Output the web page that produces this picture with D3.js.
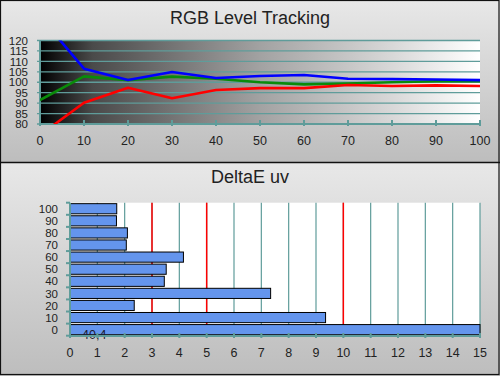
<!DOCTYPE html>
<html><head><meta charset="utf-8">
<script src="https://cdn.jsdelivr.net/npm/d3@7"></script>
<style>html,body{margin:0;padding:0;background:#fff}svg{display:block}</style>
</head><body>
<script>
const levels = [0,10,20,30,40,50,60,70,80,90,100];
const redVals   = [74.7,90.2,97.4,92.3,96.3,97.2,97.2,98.7,98.2,98.5,98.2];
const greenVals = [91.5,102.8,101.0,102.7,101.7,100.0,99.0,99.4,100.0,100.5,100.5];
const blueVals  = [131.5,106.5,101.1,104.9,102.0,103.0,103.5,101.7,101.5,101.3,101.0];
const yTicksTop = [80,85,90,95,100,105,110,115,120];
const xTicksTop = [0,10,20,30,40,50,60,70,80,90,100];
const deCats = ["100","90","80","70","60","50","40","30","20","10","0"];
const deVals = [1.71,1.70,2.10,2.06,4.15,3.52,3.45,7.34,2.35,9.35,40.4];
const xTicksBot = d3.range(0,16);
const refLines = [3,5,10];

const W=500,H=376;
const svg=d3.select("body").append("svg").attr("width",W).attr("height",H);
const defs=svg.append("defs");
const pg=defs.append("linearGradient").attr("id","panel").attr("x1",0).attr("y1",0).attr("x2",0).attr("y2",1);
pg.append("stop").attr("offset","0%").attr("stop-color","#e8e8e8");
pg.append("stop").attr("offset","100%").attr("stop-color","#bdbdbd");
const bg=defs.append("linearGradient").attr("id","plotbg").attr("x1",0).attr("y1",0).attr("x2",1).attr("y2",0);
[[0,"#000"],[0.12,"#4a4a4a"],[0.5,"#a2a2a2"],[0.8,"#d8d8d8"],[1,"#ffffff"]].forEach(s=>bg.append("stop").attr("offset",s[0]).attr("stop-color",s[1]));
defs.append("clipPath").attr("id","clipTop").append("rect").attr("x",40).attr("y",40.5).attr("width",440).attr("height",83.5);

svg.append("rect").attr("x",0).attr("y",0).attr("width",W).attr("height",162).attr("fill","url(#panel)");
svg.append("rect").attr("x",0).attr("y",163).attr("width",W).attr("height",213).attr("fill","url(#panel)");
svg.append("rect").attr("x",0.5).attr("y",0.5).attr("width",W-1.5).attr("height",H-2).attr("fill","none").attr("stroke","#111").attr("stroke-width",1.2);
svg.append("line").attr("x1",0).attr("x2",W).attr("y1",162.5).attr("y2",162.5).attr("stroke","#111").attr("stroke-width",1.5);

const teal="#5f9c9a";
const font="'Liberation Sans', Arial, sans-serif";

// ---------- Top chart ----------
const x=d3.scaleLinear().domain([0,100]).range([40,480]);
const y=d3.scaleLinear().domain([80,120]).range([124,40.5]);
svg.append("text").attr("x",250).attr("y",24).attr("text-anchor","middle").attr("font-family",font).attr("font-size",18).attr("fill","#222").text("RGB Level Tracking");
svg.append("rect").attr("x",x(0)).attr("y",y(120)).attr("width",x(100)-x(0)).attr("height",y(80)-y(120)).attr("fill","url(#plotbg)");
svg.append("g").selectAll("line").data(yTicksTop).join("line")
  .attr("x1",x(0)-3).attr("x2",x(100)).attr("y1",d=>y(d)).attr("y2",d=>y(d)).attr("stroke",teal).attr("stroke-width",1.3);
svg.append("line").attr("x1",x(0)).attr("x2",x(0)).attr("y1",y(120)).attr("y2",y(80)).attr("stroke",teal).attr("stroke-width",2);
svg.append("line").attr("x1",x(0)-1).attr("x2",x(100)+1).attr("y1",y(80)).attr("y2",y(80)).attr("stroke",teal).attr("stroke-width",2.2);
svg.append("g").selectAll("line").data(xTicksTop).join("line")
  .attr("x1",d=>x(d)).attr("x2",d=>x(d)).attr("y1",y(80)-4).attr("y2",y(80)+2).attr("stroke",teal).attr("stroke-width",2);
svg.append("g").selectAll("text").data(yTicksTop).join("text")
  .attr("x",28).attr("y",d=>y(d)+4.2).attr("text-anchor","end").attr("font-family",font).attr("font-size",11.5).attr("fill","#222").text(d=>d);
svg.append("g").selectAll("text").data(xTicksTop).join("text")
  .attr("x",d=>x(d)).attr("y",144.5).attr("text-anchor","middle").attr("font-family",font).attr("font-size",12.5).attr("fill","#222").text(d=>d);
const line=d3.line().x((d,i)=>x(levels[i])).y(d=>y(d));
const lg=svg.append("g").attr("clip-path","url(#clipTop)");
[[greenVals,"#0a8a0a"],[redVals,"#ff0000"],[blueVals,"#0000ff"]].forEach(([v,c])=>{
  lg.append("path").datum(v).attr("d",line).attr("fill","none").attr("stroke",c).attr("stroke-width",2.6).attr("stroke-linejoin","round");
});

// ---------- Bottom chart ----------
const x2=d3.scaleLinear().domain([0,15]).range([70,480]);
const y2=d3.scaleBand().domain(deCats).range([202.7,335.7]).paddingInner(0.16).paddingOuter(0.08);
svg.append("text").attr("x",250).attr("y",183).attr("text-anchor","middle").attr("font-family",font).attr("font-size",18).attr("fill","#222").text("DeltaE uv");
svg.append("rect").attr("x",x2(0)).attr("y",202.7).attr("width",x2(15)-x2(0)).attr("height",133).attr("fill","#fff");
svg.append("g").selectAll("line").data(xTicksBot.filter(d=>d>0)).join("line")
  .attr("x1",d=>x2(d)).attr("x2",d=>x2(d)).attr("y1",202.7).attr("y2",335.7).attr("stroke",teal).attr("stroke-width",1.2);
svg.append("g").selectAll("line").data(refLines).join("line")
  .attr("x1",d=>x2(d)).attr("x2",d=>x2(d)).attr("y1",202.7).attr("y2",335.7).attr("stroke","#ff0000").attr("stroke-width",1.5);
svg.append("g").selectAll("rect").data(deCats).join("rect")
  .attr("x",x2(0)).attr("y",d=>y2(d)).attr("width",(d,i)=>x2(Math.min(deVals[i],15))-x2(0)).attr("height",y2.bandwidth())
  .attr("fill","#6495ed").attr("stroke","#000").attr("stroke-width",1);
svg.append("text").attr("x",82).attr("y",338.5).attr("font-family",font).attr("font-size",12.5).attr("fill","#1a1a33").text(String(deVals[10]).replace(".",","));
svg.append("line").attr("x1",x2(0)).attr("x2",x2(0)).attr("y1",202.7).attr("y2",336).attr("stroke",teal).attr("stroke-width",2);
svg.append("line").attr("x1",x2(0)-1).attr("x2",x2(15)+1).attr("y1",336).attr("y2",336).attr("stroke",teal).attr("stroke-width",2);
const bounds=deCats.map(d=>y2(d)-y2.step()*y2.paddingInner()/2).concat([335.7]);
svg.append("g").selectAll("line").data(bounds).join("line")
  .attr("x1",x2(0)-4).attr("x2",x2(0)).attr("y1",d=>d).attr("y2",d=>d).attr("stroke",teal).attr("stroke-width",2);
svg.append("g").selectAll("line").data(xTicksBot).join("line")
  .attr("x1",d=>x2(d)).attr("x2",d=>x2(d)).attr("y1",333).attr("y2",338).attr("stroke",teal).attr("stroke-width",2);
svg.append("g").selectAll("text").data(deCats).join("text")
  .attr("x",58).attr("y",d=>y2(d)+y2.bandwidth()/2+4.2).attr("text-anchor","end").attr("font-family",font).attr("font-size",11.5).attr("fill","#222").text(d=>d);
svg.append("g").selectAll("text").data(xTicksBot).join("text")
  .attr("x",d=>x2(d)).attr("y",356.5).attr("text-anchor","middle").attr("font-family",font).attr("font-size",12.5).attr("fill","#222").text(d=>d);
</script>
</body></html>
